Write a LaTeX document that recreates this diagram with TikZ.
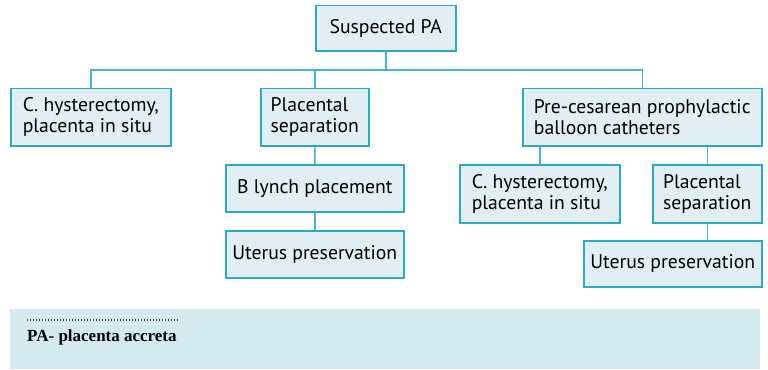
\documentclass[tikz,border=0pt]{standalone}
\usepackage{fontspec}
\setmainfont{PT Sans}
\newfontfamily\notefont{Liberation Serif}
\definecolor{boxfill}{HTML}{E1EEF4}
\definecolor{boxline}{HTML}{2AAAC8}
\definecolor{linkline}{HTML}{45B5D2}
\definecolor{notefill}{HTML}{D5E9F0}
\begin{document}
\begin{tikzpicture}[x=0.03cm,y=-0.03cm,
    flowbox/.style={draw=boxline,fill=boxfill,line width=0.045cm,inner sep=0pt,
      anchor=north west,align=left,font=\fontsize{16.8}{17.9}\selectfont},
    link/.style={draw=linkline,line width=0.045cm}]
  \useasboundingbox (0,0) rectangle (768,369);

  % Top of the tree
  \node[flowbox,minimum width=4.2cm,minimum height=1.35cm] (top) at (315,5) {Suspected PA};
  \coordinate (bus) at (0,70);

  % First row
  \node[flowbox,minimum width=4.8cm,minimum height=1.71cm] (hystA) at (10,88) {C. hysterectomy,\\placenta in situ};
  \node[flowbox,minimum width=3.24cm,minimum height=1.71cm] (sepA) at (260,88) {Placental\\separation};
  \node[flowbox,minimum width=7.17cm,minimum height=1.71cm] (balloon) at (522,88) {Pre-cesarean prophylactic\\balloon catheters};

  % Left branch
  \node[flowbox,minimum width=5.34cm,minimum height=1.41cm] (lynch) at (225,164) {B lynch placement};
  \node[flowbox,minimum width=5.34cm,minimum height=1.41cm] (uterA) at (225,230) {Uterus preservation};

  % Right branch
  \node[flowbox,minimum width=4.8cm,minimum height=1.74cm] (hystB) at (459,164) {C. hysterectomy,\\placenta in situ};
  \node[flowbox,minimum width=3.27cm,minimum height=1.74cm] (sepB) at (652,164) {Placental\\separation};
  \node[flowbox,minimum width=5.34cm,minimum height=1.38cm] (uterB) at (583,240) {Uterus preservation};

  % Connectors
  \draw[link] (top.south) -- (top.south |- bus);
  \draw[link] (hystA.north) |- (balloon.north |- bus) -- (balloon.north);
  \draw[link] (sepA.north) -- (sepA.north |- bus);
  \draw[link] (sepA.south) -- (lynch.north);
  \draw[link] (lynch.south) -- (uterA.north);
  \draw[link] (balloon.south -| hystB.north) -- (hystB.north);
  \draw[link] (balloon.south -| sepB.north) -- (sepB.north);
  \draw[link] (sepB.south) -- (sepB.south |- uterB.north);

  % Abbreviation note
  \fill[notefill] (10,309) rectangle (760,369);
  \draw[black!70,line width=0.035cm,dash pattern=on 0.03cm off 0.06cm] (27,320) -- (178,320);
  \node[anchor=base west,inner sep=0pt,font=\notefont\bfseries\fontsize{14.5}{16}\selectfont] (note) at (27,341) {PA- placenta accreta};
\end{tikzpicture}
\end{document}
